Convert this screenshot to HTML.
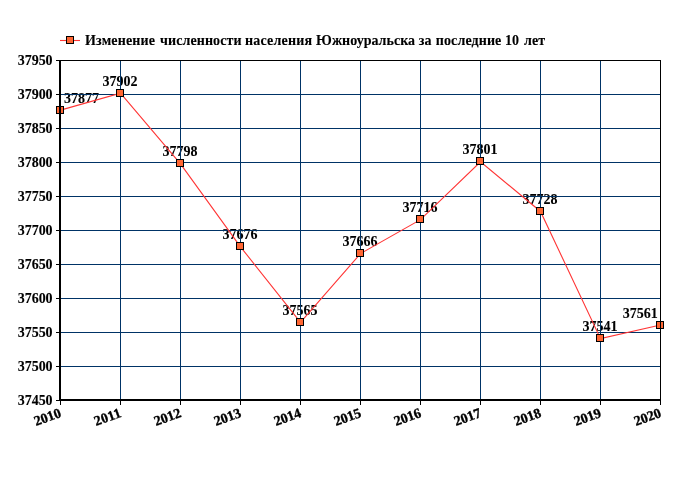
<!DOCTYPE html>
<html lang="ru"><head><meta charset="utf-8"><title>Изменение численности населения Южноуральска</title>
<style>
html,body{margin:0;padding:0;background:#fff;}
body{width:680px;height:500px;overflow:hidden;}
svg{display:block;}
text{font-family:"Liberation Serif","DejaVu Serif",serif;font-weight:bold;font-size:14px;fill:#000;stroke:#000;stroke-width:0.1px;}
</style></head><body>
<svg width="680" height="500" viewBox="0 0 680 500">
<rect width="680" height="500" fill="#fff"/>
<text x="64" y="103" textLength="35" text-anchor="start">37877</text>
<text x="120" y="86" textLength="35" text-anchor="middle">37902</text>
<text x="180" y="156" textLength="35" text-anchor="middle">37798</text>
<text x="240" y="239" textLength="35" text-anchor="middle">37676</text>
<text x="300" y="315" textLength="35" text-anchor="middle">37565</text>
<text x="360" y="246" textLength="35" text-anchor="middle">37666</text>
<text x="420" y="212" textLength="35" text-anchor="middle">37716</text>
<text x="480" y="154" textLength="35" text-anchor="middle">37801</text>
<text x="540" y="204" textLength="35" text-anchor="middle">37728</text>
<text x="600" y="331" textLength="35" text-anchor="middle">37541</text>
<text x="657.8" y="318" textLength="35" text-anchor="end">37561</text>
<g fill="#003366" shape-rendering="crispEdges"><rect x="120" y="60" width="1" height="340"/><rect x="180" y="60" width="1" height="340"/><rect x="240" y="60" width="1" height="340"/><rect x="300" y="60" width="1" height="340"/><rect x="360" y="60" width="1" height="340"/><rect x="420" y="60" width="1" height="340"/><rect x="480" y="60" width="1" height="340"/><rect x="540" y="60" width="1" height="340"/><rect x="600" y="60" width="1" height="340"/><rect x="660" y="60" width="1" height="340"/><rect x="60" y="60" width="600" height="1"/><rect x="60" y="94" width="600" height="1"/><rect x="60" y="128" width="600" height="1"/><rect x="60" y="162" width="600" height="1"/><rect x="60" y="196" width="600" height="1"/><rect x="60" y="230" width="600" height="1"/><rect x="60" y="264" width="600" height="1"/><rect x="60" y="298" width="600" height="1"/><rect x="60" y="332" width="600" height="1"/><rect x="60" y="366" width="600" height="1"/></g>
<polyline fill="none" stroke="#ff3535" stroke-width="1.1" points="60.50,110.14 120.50,93.14 180.50,163.86 240.50,246.82 300.50,322.30 360.50,253.62 420.50,219.62 480.50,161.82 540.50,211.46 600.50,338.62 660.50,325.02"/>
<g fill="#ff6633" stroke="#000" stroke-width="1"><rect x="56.5" y="106.5" width="7" height="7"/><rect x="116.5" y="89.5" width="7" height="7"/><rect x="176.5" y="159.5" width="7" height="7"/><rect x="236.5" y="242.5" width="7" height="7"/><rect x="296.5" y="318.5" width="7" height="7"/><rect x="356.5" y="249.5" width="7" height="7"/><rect x="416.5" y="215.5" width="7" height="7"/><rect x="476.5" y="157.5" width="7" height="7"/><rect x="536.5" y="207.5" width="7" height="7"/><rect x="596.5" y="334.5" width="7" height="7"/><rect x="656.5" y="321.5" width="7" height="7"/></g>
<g fill="#000" shape-rendering="crispEdges"><rect x="60" y="60" width="601" height="1"/><rect x="660" y="60" width="1" height="341"/><rect x="59" y="60" width="2" height="341"/><rect x="59" y="399" width="602" height="2"/><rect x="56" y="60" width="4" height="1"/><rect x="56" y="94" width="4" height="1"/><rect x="56" y="128" width="4" height="1"/><rect x="56" y="162" width="4" height="1"/><rect x="56" y="196" width="4" height="1"/><rect x="56" y="230" width="4" height="1"/><rect x="56" y="264" width="4" height="1"/><rect x="56" y="298" width="4" height="1"/><rect x="56" y="332" width="4" height="1"/><rect x="56" y="366" width="4" height="1"/><rect x="56" y="400" width="4" height="1"/><rect x="60" y="400" width="1" height="5"/><rect x="120" y="400" width="1" height="5"/><rect x="180" y="400" width="1" height="5"/><rect x="240" y="400" width="1" height="5"/><rect x="300" y="400" width="1" height="5"/><rect x="360" y="400" width="1" height="5"/><rect x="420" y="400" width="1" height="5"/><rect x="480" y="400" width="1" height="5"/><rect x="540" y="400" width="1" height="5"/><rect x="600" y="400" width="1" height="5"/><rect x="660" y="400" width="1" height="5"/></g>
<text x="52.6" y="65" textLength="34.8" text-anchor="end">37950</text>
<text x="52.6" y="99" textLength="34.8" text-anchor="end">37900</text>
<text x="52.6" y="133" textLength="34.8" text-anchor="end">37850</text>
<text x="52.6" y="167" textLength="34.8" text-anchor="end">37800</text>
<text x="52.6" y="201" textLength="34.8" text-anchor="end">37750</text>
<text x="52.6" y="235" textLength="34.8" text-anchor="end">37700</text>
<text x="52.6" y="269" textLength="34.8" text-anchor="end">37650</text>
<text x="52.6" y="303" textLength="34.8" text-anchor="end">37600</text>
<text x="52.6" y="337" textLength="34.8" text-anchor="end">37550</text>
<text x="52.6" y="371" textLength="34.8" text-anchor="end">37500</text>
<text x="52.6" y="405" textLength="34.8" text-anchor="end">37450</text>
<text transform="translate(58.7,407.2) rotate(-20)" text-anchor="end" y="10" textLength="27.7" style="stroke-width:0.35px">2010</text>
<text transform="translate(118.7,407.2) rotate(-20)" text-anchor="end" y="10" textLength="27.7" style="stroke-width:0.35px">2011</text>
<text transform="translate(178.7,407.2) rotate(-20)" text-anchor="end" y="10" textLength="27.7" style="stroke-width:0.35px">2012</text>
<text transform="translate(238.7,407.2) rotate(-20)" text-anchor="end" y="10" textLength="27.7" style="stroke-width:0.35px">2013</text>
<text transform="translate(298.7,407.2) rotate(-20)" text-anchor="end" y="10" textLength="27.7" style="stroke-width:0.35px">2014</text>
<text transform="translate(358.7,407.2) rotate(-20)" text-anchor="end" y="10" textLength="27.7" style="stroke-width:0.35px">2015</text>
<text transform="translate(418.7,407.2) rotate(-20)" text-anchor="end" y="10" textLength="27.7" style="stroke-width:0.35px">2016</text>
<text transform="translate(478.7,407.2) rotate(-20)" text-anchor="end" y="10" textLength="27.7" style="stroke-width:0.35px">2017</text>
<text transform="translate(538.7,407.2) rotate(-20)" text-anchor="end" y="10" textLength="27.7" style="stroke-width:0.35px">2018</text>
<text transform="translate(598.7,407.2) rotate(-20)" text-anchor="end" y="10" textLength="27.7" style="stroke-width:0.35px">2019</text>
<text transform="translate(658.7,407.2) rotate(-20)" text-anchor="end" y="10" textLength="27.7" style="stroke-width:0.35px">2020</text>
<line x1="60" y1="40.5" x2="80" y2="40.5" stroke="#ff3535" stroke-width="1.1"/>
<rect x="66.5" y="36.5" width="7" height="7" fill="#ff6633" stroke="#000" stroke-width="1"/>
<text y="45"><tspan x="85.0" textLength="70.0">Изменение</tspan> <tspan x="160.0" textLength="81.5">численности</tspan> <tspan x="245.0" textLength="67.0">населения</tspan> <tspan x="316.0" textLength="99.0">Южноуральска</tspan> <tspan x="418.8" textLength="12.6">за</tspan> <tspan x="435.8" textLength="65.5">последние</tspan> <tspan x="505.0" textLength="14.0">10</tspan> <tspan x="524.0" textLength="21.2">лет</tspan></text>
</svg></body></html>
